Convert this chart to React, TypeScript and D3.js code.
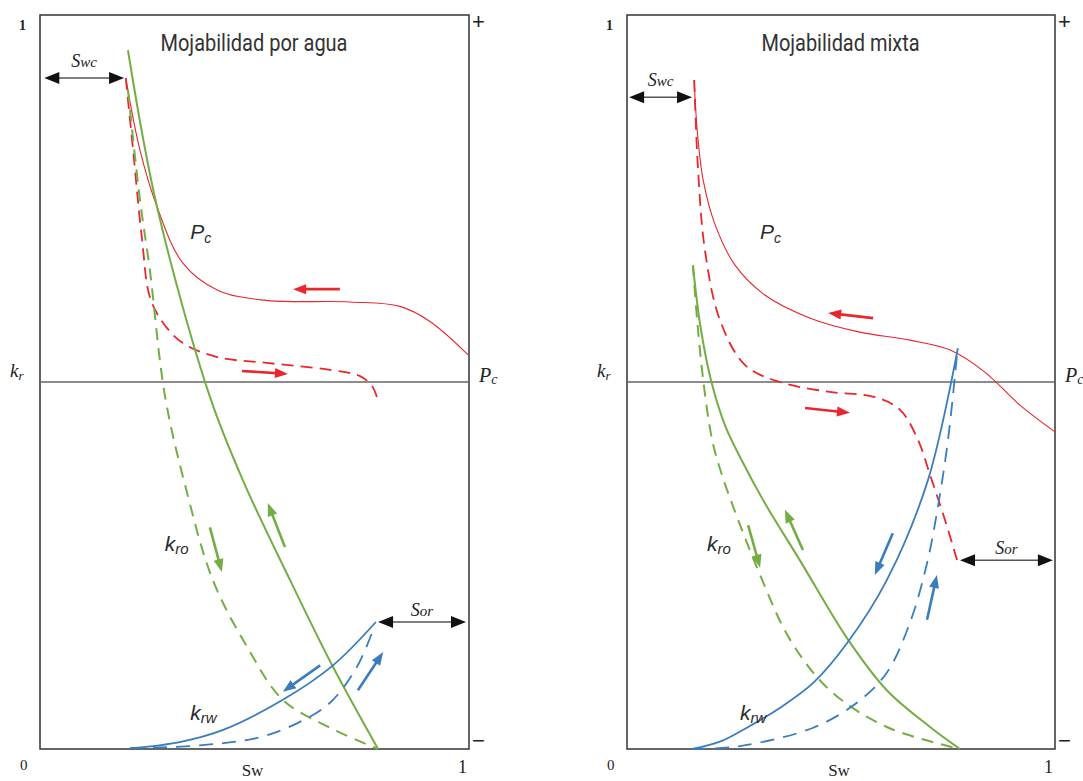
import React from 'react';
import * as d3 from 'd3';

type Pt = [number, number];

// ---- data (x = Sw, y = kr or Pc) ----

// water-wet panel
const wwKroSolid: Pt[] = [[0.205, 0.952], [0.273, 0.738], [0.396, 0.48], [0.473, 0.366], [0.583, 0.23], [0.681, 0.114], [0.788, 0]];
const wwKroDash: Pt[] = [[0.205, 0.898], [0.233, 0.748], [0.256, 0.653], [0.291, 0.482], [0.338, 0.36], [0.403, 0.23], [0.483, 0.139], [0.566, 0.067], [0.676, 0.029], [0.788, 0]];
const wwKrwSolid: Pt[] = [[0.21, 0.001], [0.326, 0.0095], [0.427, 0.026], [0.566, 0.067], [0.683, 0.114], [0.783, 0.173]];
const wwKrwDash: Pt[] = [[0.21, 0.001], [0.373, 0.005], [0.513, 0.016], [0.606, 0.037], [0.676, 0.063], [0.739, 0.112], [0.779, 0.166]];
const wwPcSolid: Pt[] = [[0.2, 0.828], [0.233, 0.632], [0.273, 0.477], [0.333, 0.324], [0.413, 0.251], [0.52, 0.223], [0.723, 0.218], [0.839, 0.206], [0.909, 0.165], [0.998, 0.074]];
const wwPcDash: Pt[] = [[0.2, 0.828], [0.217, 0.632], [0.238, 0.387], [0.256, 0.232], [0.287, 0.161], [0.333, 0.106], [0.413, 0.068], [0.529, 0.052], [0.676, 0.033], [0.746, 0.016], [0.774, -0.011], [0.786, -0.044]];

// mixed-wet panel
const mwKroSolid: Pt[] = [[0.154, 0.659], [0.171, 0.578], [0.196, 0.503], [0.229, 0.441], [0.271, 0.39], [0.322, 0.335], [0.404, 0.257], [0.514, 0.151], [0.607, 0.08], [0.708, 0.03], [0.778, 0]];
const mwKroDash: Pt[] = [[0.154, 0.659], [0.164, 0.584], [0.178, 0.503], [0.199, 0.421], [0.222, 0.373], [0.269, 0.298], [0.311, 0.237], [0.381, 0.149], [0.474, 0.08], [0.607, 0.03], [0.778, 0]];
const mwKrwSolid: Pt[] = [[0.152, 0], [0.217, 0.01], [0.28, 0.029], [0.357, 0.056], [0.435, 0.09], [0.514, 0.144], [0.607, 0.23], [0.703, 0.366], [0.773, 0.546]];
const mwKrwDash: Pt[] = [[0.152, 0], [0.264, 0.004], [0.435, 0.029], [0.537, 0.063], [0.607, 0.104], [0.661, 0.172], [0.701, 0.253], [0.727, 0.332], [0.75, 0.421], [0.771, 0.537]];
const mwPcSolid: Pt[] = [[0.157, 0.823], [0.164, 0.687], [0.178, 0.55], [0.206, 0.428], [0.252, 0.319], [0.322, 0.237], [0.428, 0.174], [0.544, 0.136], [0.661, 0.114], [0.755, 0.087], [0.836, 0.027], [0.918, -0.063], [1.0, -0.136]];
const mwPcDash: Pt[] = [[0.157, 0.823], [0.166, 0.578], [0.182, 0.36], [0.217, 0.169], [0.276, 0.046], [0.357, 0], [0.474, -0.027], [0.579, -0.041], [0.638, -0.076], [0.68, -0.158], [0.708, -0.253], [0.743, -0.376], [0.771, -0.485]];

// direction arrows [x1, y1, x2, y2]
const wwArrows = {
  pcLeft: [0.699, 0.253, 0.59, 0.253],
  pcRight: [0.471, 0.03, 0.578, 0.022],
  kroUp: [0.571, 0.275, 0.531, 0.335],
  kroDown: [0.396, 0.302, 0.424, 0.241],
  krwDown: [0.653, 0.114, 0.566, 0.078],
  krwUp: [0.741, 0.08, 0.8, 0.132],
};
const mwArrows = {
  pcLeft: [0.575, 0.174, 0.47, 0.188],
  pcRight: [0.416, -0.071, 0.521, -0.084],
  kroUp: [0.411, 0.271, 0.369, 0.326],
  kroDown: [0.283, 0.305, 0.311, 0.247],
  krwDown: [0.621, 0.294, 0.579, 0.237],
  krwUp: [0.701, 0.176, 0.724, 0.237],
};

// Swc / Sor brackets [xStart, xEnd, kr level]
const wwSwc = [0.01, 0.196, 0.914];
const wwSor = [0.788, 0.993, 0.173];
const mwSwc = [0.005, 0.152, 0.888];
const mwSor = [0.778, 0.995, 0.257];

const GREEN = '#74ad45';
const BLUE = '#3a7dbd';
const RED = '#e8262d';
const TOP = 15;
const BOTTOM = 749;

const sans = "'Liberation Sans', Arial, sans-serif";
const serif = "'Liberation Serif', 'DejaVu Serif', serif";

function head(x1: number, y1: number, x2: number, y2: number, len: number, wid: number) {
  const a = Math.atan2(y2 - y1, x2 - x1);
  const bx = x2 - len * Math.cos(a);
  const by = y2 - len * Math.sin(a);
  const px = (wid / 2) * Math.sin(a);
  const py = (wid / 2) * Math.cos(a);
  return `${x2},${y2} ${bx + px},${by - py} ${bx - px},${by + py}`;
}

function DirArrow({ p, color, sx, sy }: { p: number[]; color: string; sx: any; sy: any }) {
  const x1 = sx(p[0]), y1 = sy(p[1]), x2 = sx(p[2]), y2 = sy(p[3]);
  const a = Math.atan2(y2 - y1, x2 - x1);
  return (
    <g>
      <line x1={x1} y1={y1} x2={x2 - 8 * Math.cos(a)} y2={y2 - 8 * Math.sin(a)} stroke={color} strokeWidth={2.6} />
      <polygon points={head(x1, y1, x2, y2, 13, 10)} fill={color} />
    </g>
  );
}

function Bracket({ b, sx, sy }: { b: number[]; sx: any; sy: any }) {
  const xa = sx(b[0]), xb = sx(b[1]), y = sy(b[2]);
  return (
    <g>
      <line x1={xa + 10} y1={y} x2={xb - 10} y2={y} stroke="#555" strokeWidth={1.5} />
      <polygon points={head(xb, y, xa, y, 15, 12)} fill="#111" />
      <polygon points={head(xa, y, xb, y, 15, 12)} fill="#111" />
    </g>
  );
}

type PanelProps = {
  x0: number; x1: number; title: string; titleLen: number;
  kroS: Pt[]; kroD: Pt[]; krwS: Pt[]; krwD: Pt[]; pcS: Pt[]; pcD: Pt[];
  arrows: typeof wwArrows; swc: number[]; sor: number[];
  pcLabel: Pt; kroLabel: Pt; krwLabel: Pt;
};

function Panel(p: PanelProps) {
  const sx = d3.scaleLinear().domain([0, 1]).range([p.x0, p.x1]);
  const skr = d3.scaleLinear().domain([0, 1]).range([BOTTOM, TOP]);
  const spc = d3.scaleLinear().domain([-1, 1]).range([BOTTOM, TOP]);
  const smooth = d3.curveCatmullRom.alpha(0.5);
  const lineKr = d3.line<Pt>().x(d => sx(d[0])).y(d => skr(d[1])).curve(smooth);
  const linePc = d3.line<Pt>().x(d => sx(d[0])).y(d => spc(d[1])).curve(smooth);
  const mid = spc(0);
  const cx = (p.x0 + p.x1) / 2;

  return (
    <g>
      <rect x={p.x0} y={TOP} width={p.x1 - p.x0} height={BOTTOM - TOP} fill="none" stroke="#333" strokeWidth={1.5} />
      <line x1={p.x0} x2={p.x1} y1={mid} y2={mid} stroke="#666" strokeWidth={1.5} />

      <text x={cx - 0.5} y={51} fontFamily="'Liberation Sans Narrow', 'Roboto', sans-serif" fontSize={24} fill="#333"
        textAnchor="middle" textLength={p.titleLen} lengthAdjust="spacingAndGlyphs">{p.title}</text>

      {/* axis texts */}
      <text x={p.x0 - 21} y={30} fontFamily={serif} fontSize={14} fontWeight="bold" fill="#222">1</text>
      <text x={p.x0 - 20} y={770} fontFamily={serif} fontSize={15} fill="#222">0</text>
      <text x={p.x1 - 11} y={773} fontFamily={serif} fontSize={18} fill="#222">1</text>
      <text x={cx - 2} y={776} fontFamily={serif} fontSize={17} fill="#222" textAnchor="middle">Sw</text>
      <text x={p.x1 + 3} y={29} fontFamily={sans} fontSize={22} fill="#222">+</text>
      <text x={p.x1 + 3} y={748} fontFamily={sans} fontSize={22} fill="#222">−</text>
      <text x={p.x0 - 30} y={377} fontFamily={serif} fontStyle="italic" fontSize={19} fill="#222">
        k<tspan fontSize={13} dy={3}>r</tspan>
      </text>
      <text x={p.x1 + 10} y={382} fontFamily={serif} fontStyle="italic" fontSize={20} fill="#222">
        P<tspan fontSize={14} dy={2}>c</tspan>
      </text>

      {/* curves */}
      <path d={linePc(p.pcS) ?? ''} fill="none" stroke={RED} strokeWidth={1.1} />
      <path d={linePc(p.pcD) ?? ''} fill="none" stroke={RED} strokeWidth={1.8} strokeDasharray="12 7" />
      <path d={lineKr(p.kroS) ?? ''} fill="none" stroke={GREEN} strokeWidth={2} />
      <path d={lineKr(p.kroD) ?? ''} fill="none" stroke={GREEN} strokeWidth={2} strokeDasharray="12 8" />
      <path d={lineKr(p.krwS) ?? ''} fill="none" stroke={BLUE} strokeWidth={1.8} />
      <path d={lineKr(p.krwD) ?? ''} fill="none" stroke={BLUE} strokeWidth={1.8} strokeDasharray="14 9" />

      {/* direction arrows */}
      <DirArrow p={p.arrows.pcLeft} color={RED} sx={sx} sy={spc} />
      <DirArrow p={p.arrows.pcRight} color={RED} sx={sx} sy={spc} />
      <DirArrow p={p.arrows.kroUp} color={GREEN} sx={sx} sy={skr} />
      <DirArrow p={p.arrows.kroDown} color={GREEN} sx={sx} sy={skr} />
      <DirArrow p={p.arrows.krwDown} color={BLUE} sx={sx} sy={skr} />
      <DirArrow p={p.arrows.krwUp} color={BLUE} sx={sx} sy={skr} />

      {/* saturation brackets */}
      <Bracket b={p.swc} sx={sx} sy={skr} />
      <Bracket b={p.sor} sx={sx} sy={skr} />
      <text x={(sx(p.swc[0]) + sx(p.swc[1])) / 2} y={skr(p.swc[2]) - 11} fontFamily={serif} fontStyle="italic"
        fontSize={18} fill="#222" textAnchor="middle">S<tspan fontSize={15}>wc</tspan></text>
      <text x={(sx(p.sor[0]) + sx(p.sor[1])) / 2} y={skr(p.sor[2]) - 6} fontFamily={serif} fontStyle="italic"
        fontSize={18} fill="#222" textAnchor="middle">S<tspan fontSize={15}>or</tspan></text>

      {/* curve labels */}
      <text x={sx(p.pcLabel[0])} y={spc(p.pcLabel[1])} fontFamily={sans} fontStyle="italic" fontSize={21} fill="#2b2b2b">
        P<tspan fontSize={14} dy={4}>c</tspan>
      </text>
      <text x={sx(p.kroLabel[0])} y={skr(p.kroLabel[1])} fontFamily={sans} fontStyle="italic" fontSize={21} fill="#2b2b2b">
        k<tspan fontSize={15} dy={3}>ro</tspan>
      </text>
      <text x={sx(p.krwLabel[0])} y={skr(p.krwLabel[1])} fontFamily={sans} fontStyle="italic" fontSize={21} fill="#2b2b2b">
        k<tspan fontSize={15} dy={3}>rw</tspan>
      </text>
    </g>
  );
}

export default function App() {
  return (
    <svg width={1083} height={781} style={{ position: 'absolute', left: 0, top: 0, background: '#fff' }}>
      <Panel x0={40} x1={469} title="Mojabilidad por agua" titleLen={187}
        kroS={wwKroSolid} kroD={wwKroDash} krwS={wwKrwSolid} krwD={wwKrwDash} pcS={wwPcSolid} pcD={wwPcDash}
        arrows={wwArrows} swc={wwSwc} sor={wwSor}
        pcLabel={[0.35, 0.39]} kroLabel={[0.291, 0.27]} krwLabel={[0.35, 0.04]} />
      <Panel x0={627} x1={1055} title="Mojabilidad mixta" titleLen={158}
        kroS={mwKroSolid} kroD={mwKroDash} krwS={mwKrwSolid} krwD={mwKrwDash} pcS={mwPcSolid} pcD={mwPcDash}
        arrows={mwArrows} swc={mwSwc} sor={mwSor}
        pcLabel={[0.311, 0.39]} kroLabel={[0.187, 0.27]} krwLabel={[0.264, 0.04]} />
    </svg>
  );
}
